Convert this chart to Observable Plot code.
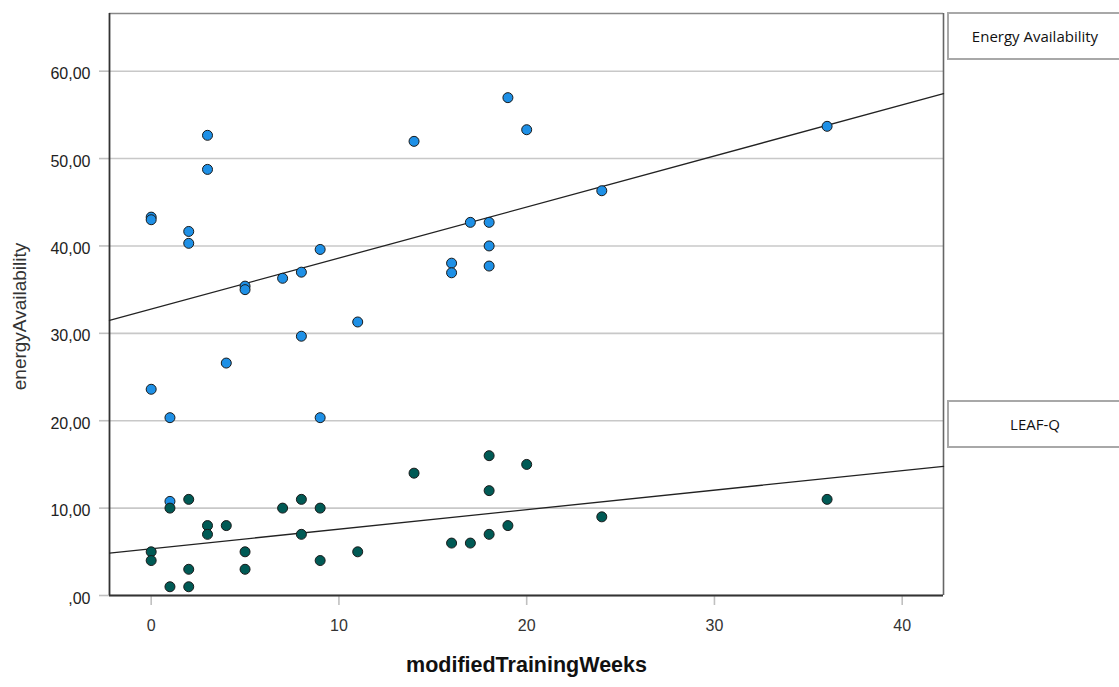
<!DOCTYPE html>
<html><head><meta charset="utf-8">
<script src="https://cdn.jsdelivr.net/npm/d3@7"></script>
<script src="https://cdn.jsdelivr.net/npm/@observablehq/plot@0.6"></script>
<style>
html,body{margin:0;padding:0;background:#fff;overflow:hidden;}
#wrap{position:relative;width:1119px;height:687px;}
#chart{position:absolute;left:0;top:0;line-height:0;}
#chart svg{display:block;}
.leg{position:absolute;left:947px;width:172px;height:44px;border:2px solid #a8a8a8;background:#fff;display:flex;align-items:center;justify-content:center;font-family:"Open Sans","Noto Sans",sans-serif;font-size:15px;color:#111;}
</style></head>
<body>
<div id="wrap"><div id="chart"></div>
<div class="leg" id="leg1" style="top:12px">Energy Availability</div>
<div class="leg" id="leg2" style="top:400px">LEAF-Q</div>
</div>
<script>
// Energy Availability series (blue)
const weeksEA = [0,0,0,1,1,2,2,3,3,4,5,5,7,8,8,9,9,11,14,16,16,17,18,18,18,19,20,24,36];
const energyAvailability = [43.3,43.0,23.6,20.35,10.77,41.66,40.3,52.66,48.76,26.6,35.4,35.0,36.3,37.0,29.67,39.6,20.35,31.3,51.97,38.03,36.93,42.7,42.7,40.0,37.7,56.97,53.3,46.32,53.69];
// LEAF-Q series (dark teal)
const weeksLQ = [0,0,1,1,2,2,2,3,3,4,5,5,7,8,8,9,9,11,14,16,17,18,18,18,19,20,24,36];
const leafQ = [5,4,10,1,11,3,1,8,7,8,5,3,10,11,7,10,4,5,14,6,6,16,12,7,8,15,9,11];
// Fit lines read at the plot's left and right edges
const fitWeeks = [-2.22, 42.2];
const eaFit = [31.47, 57.43];
const leafFit = [4.86, 14.78];
// Axes
const xDomain = [-2.22, 42.2];
const yDomain = [0, 66.6];
const xTicks = [0,10,20,30,40];
const xTickLabels = ["0","10","20","30","40"];
const yTicks = [0,10,20,30,40,50,60];
const yTickLabels = [",00","10,00","20,00","30,00","40,00","50,00","60,00"];
const xLabel = "modifiedTrainingWeeks";
const yLabel = "energyAvailability";

const eaData = weeksEA.map((w,i)=>({w, v: energyAvailability[i]}));
const lqData = weeksLQ.map((w,i)=>({w, v: leafQ[i]}));
const eaLine = fitWeeks.map((w,i)=>({w, v: eaFit[i]}));
const lqLine = fitWeeks.map((w,i)=>({w, v: leafFit[i]}));

const chart = Plot.plot({
  width: 1119, height: 687,
  marginLeft: 109, marginTop: 13, marginRight: 176, marginBottom: 92,
  x: {domain: xDomain},
  y: {domain: yDomain},
  style: {fontFamily: "'Liberation Sans', Arial, sans-serif", fontSize: "16px", color: "#222", background: "transparent"},
  marks: [
    Plot.ruleY(yTicks, {stroke: "#c8c8c8", strokeWidth: 1.6}),
    Plot.axisY({ticks: yTicks, tickFormat: () => "", tickSize: 10, stroke: "#c0c0c0", strokeWidth: 1.6, label: null}),
    Plot.axisY({ticks: yTicks, tickFormat: d => yTickLabels[yTicks.indexOf(d)], tickSize: 0, tickPadding: 19, dy: 3, fill: "#222", fontSize: 16, label: null}),
    Plot.axisX({ticks: xTicks, tickFormat: d => xTickLabels[xTicks.indexOf(d)], tickSize: 10, tickPadding: 14, stroke: "#c0c0c0", strokeWidth: 1.6, fill: "#333", fontSize: 16, label: null}),
    Plot.ruleY([yDomain[1]], {stroke: "#888", strokeWidth: 1.6}),
    Plot.ruleX([xDomain[1]], {stroke: "#666", strokeWidth: 1.6}),
    Plot.ruleX([xDomain[0]], {stroke: "#333", strokeWidth: 1.8}),
    Plot.ruleY([0], {stroke: "#333", strokeWidth: 1.8}),
    Plot.line(eaLine, {x: "w", y: "v", stroke: "#222", strokeWidth: 1.3}),
    Plot.line(lqLine, {x: "w", y: "v", stroke: "#222", strokeWidth: 1.3}),
    Plot.dot(eaData, {x: "w", y: "v", r: 5, fill: "#1e90e6", stroke: "#1a1a1a", strokeWidth: 1}),
    Plot.dot(lqData, {x: "w", y: "v", r: 5, fill: "#005a55", stroke: "#1a1a1a", strokeWidth: 1}),
    Plot.text([yLabel], {frameAnchor: "left", textAnchor: "middle", dx: -90, dy: 12, rotate: -90, fontSize: 19, fill: "#333"}),
    Plot.text([xLabel], {frameAnchor: "bottom", dy: 76, fontSize: 21.5, fontWeight: "bold", fill: "#111"})
  ]
});
document.getElementById("chart").appendChild(chart);
</script>
</body></html>
